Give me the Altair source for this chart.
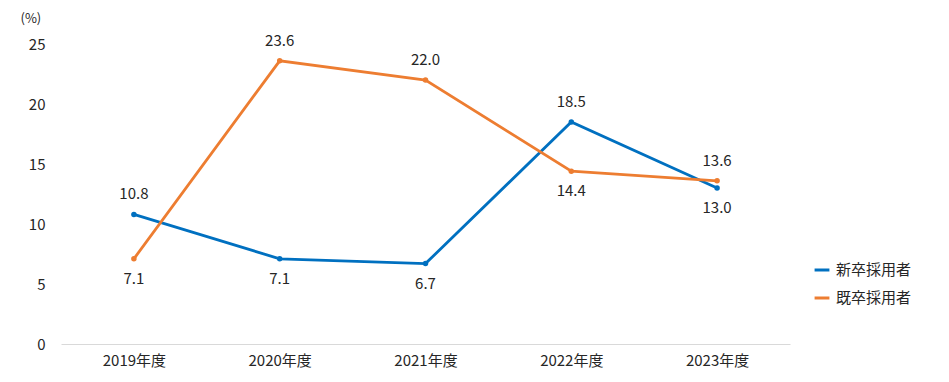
import altair as alt
import pandas as pd

years = ["2019年度", "2020年度", "2021年度", "2022年度", "2023年度"]
series_names = ["新卒採用者", "既卒採用者"]
new_grad = [10.8, 7.1, 6.7, 18.5, 13.0]
experienced = [7.1, 23.6, 22.0, 14.4, 13.6]
colors = ["#0070C0", "#ED7D31"]

rows = []
for i, y in enumerate(years):
    vals = [new_grad[i], experienced[i]]
    for s, v in zip(series_names, vals):
        rows.append({"year": y, "series": s, "value": v,
                     "side": "above" if v == max(vals) else "below"})
df = pd.DataFrame(rows)

FONT = "Noto Sans CJK JP"
TXT = "#262626"

x = alt.X("year:N", sort=years, title=None,
          scale=alt.Scale(type="point", padding=0.5),
          axis=alt.Axis(labelAngle=0, ticks=False, domainColor="#d9d9d9",
                        domainWidth=1, labelFontSize=15, labelFont=FONT,
                        labelColor=TXT, labelPadding=9, grid=False))
y = alt.Y("value:Q", title="(%)",
          scale=alt.Scale(domain=[0, 25], nice=False),
          axis=alt.Axis(values=[0, 5, 10, 15, 20, 25], grid=False, domain=False,
                        ticks=False, labelFontSize=15, labelFont=FONT,
                        labelColor=TXT, labelPadding=16,
                        titleAngle=0, titleAlign="left", titleBaseline="middle",
                        titleX=-41, titleY=-26, titleFontSize=13,
                        titleFontWeight="normal", titleFont=FONT, titleColor=TXT))
color = alt.Color("series:N", sort=series_names,
                  scale=alt.Scale(domain=series_names, range=colors),
                  legend=alt.Legend(title=None, orient="none", legendX=752,
                                    legendY=217, symbolType="stroke",
                                    symbolStrokeWidth=3, symbolSize=220,
                                    labelFontSize=15, labelFont=FONT,
                                    labelColor=TXT, rowPadding=11,
                                    labelOffset=5))

base = alt.Chart(df)
lines = base.mark_line(strokeWidth=2.8, point=alt.OverlayMarkDef(size=30, filled=True)).encode(
    x=x, y=y, color=color, detail="series:N")
above = base.transform_filter(alt.datum.side == "above").mark_text(
    dy=-20, fontSize=15, font=FONT, color=TXT).encode(
    x=alt.X("year:N", sort=years), y="value:Q", text=alt.Text("value:Q", format=".1f"))
below = base.transform_filter(alt.datum.side == "below").mark_text(
    dy=20, fontSize=15, font=FONT, color=TXT).encode(
    x=alt.X("year:N", sort=years), y="value:Q", text=alt.Text("value:Q", format=".1f"))

chart = alt.layer(lines, above, below).properties(
    width=729, height=300,
    padding={"left": 53, "top": 36, "right": 151, "bottom": 30},
    autosize=alt.AutoSizeParams(type="none"),
    background="white",
).configure_view(stroke=None, strokeWidth=0)

chart.save("out.html", embed_options={"renderer": "svg", "actions": False})
